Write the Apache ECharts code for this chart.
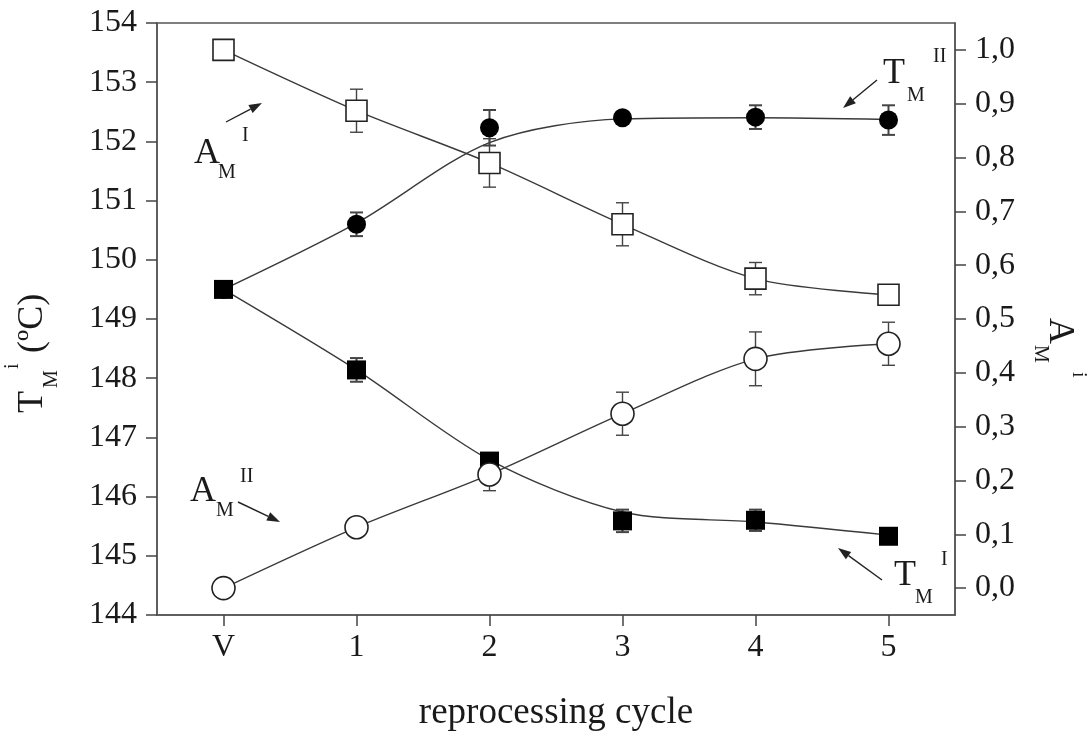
<!DOCTYPE html>
<html>
<head>
<meta charset="utf-8">
<script src="https://cdn.jsdelivr.net/npm/echarts@6/dist/echarts.min.js"></script>
<style>
html,body{margin:0;padding:0;background:#fff;}
#chart{width:1091px;height:738px;}
</style>
</head>
<body>
<div id="chart"></div>
<script>
// ---- data ----
const categories = ['V', '1', '2', '3', '4', '5'];
// T_M^I (filled squares), left axis
const tmI = [149.5, 148.14, 146.6, 145.59, 145.6, 145.33];
const tmIErr = [0.05, 0.2, 0.1, 0.19, 0.18, 0.08];
const tmIFit = [149.5, 148.14, 146.62, 145.74, 145.57, 145.35];
// T_M^II (filled circles), left axis
const tmII = [149.5, 150.6, 152.23, 152.4, 152.41, 152.36];
const tmIIErr = [0.05, 0.2, 0.3, 0.08, 0.2, 0.25];
const tmIIFit = [149.5, 150.62, 151.98, 152.38, 152.4, 152.37];
// A_M^I (open squares), right axis
const amI = [1.0, 0.887, 0.79, 0.676, 0.575, 0.545];
const amIErr = [0, 0.04, 0.045, 0.04, 0.03, 0.01];
// A_M^II (open circles), right axis
const amII = [0.0, 0.113, 0.211, 0.324, 0.426, 0.454];
const amIIErr = [0, 0.01, 0.03, 0.04, 0.05, 0.04];
// tick labels
const leftTicks = [144, 145, 146, 147, 148, 149, 150, 151, 152, 153, 154];
const rightTicks = [0, 0.1, 0.2, 0.3, 0.4, 0.5, 0.6, 0.7, 0.8, 0.9, 1.0];

const FONT = 'Liberation Serif';
const INK = '#1a1a1a';
const LINE = '#3a3a3a';

const chart = echarts.init(document.getElementById('chart'), null, {renderer: 'canvas'});

function pts(arr) { return arr.map((v, i) => [categories[i], v]); }
function errData(vals, errs) { return vals.map((v, i) => [i, v, errs[i]]); }

function errSeries(vals, errs, yIdx, lw) {
  return {
    type: 'custom', yAxisIndex: yIdx, z: 3, silent: true,
    data: errData(vals, errs),
    encode: {x: 0, y: 1},
    renderItem: function (params, api) {
      const x = api.value(0), v = api.value(1), e = api.value(2);
      if (!e) return null;
      const t = api.coord([x, v + e]);
      const b = api.coord([x, v - e]);
      const w = 6.5;
      const st = {stroke: '#444', lineWidth: lw};
      return {type: 'group', children: [
        {type: 'line', shape: {x1: t[0], y1: t[1], x2: b[0], y2: b[1]}, style: st},
        {type: 'line', shape: {x1: t[0] - w, y1: t[1], x2: t[0] + w, y2: t[1]}, style: st},
        {type: 'line', shape: {x1: b[0] - w, y1: b[1], x2: b[0] + w, y2: b[1]}, style: st}
      ]};
    }
  };
}

function fitLine(vals, yIdx) {
  return {type: 'line', yAxisIndex: yIdx, data: pts(vals), smooth: 0.3, showSymbol: false,
    symbol: 'none', lineStyle: {color: LINE, width: 1.4}, z: 2, silent: true};
}
function markers(vals, yIdx, symbol, size, filled) {
  return {type: 'scatter', yAxisIndex: yIdx, data: pts(vals), symbol: symbol, symbolSize: size, z: 5,
    itemStyle: filled ? {color: '#000', opacity: 1} : {color: '#fff', borderColor: '#222', borderWidth: 1.6, opacity: 1}};
}

// annotation helper: group with texts (local coords) and optional rotation
function label(x, y, rot, parts) {
  return {type: 'group', x: x, y: y, rotation: rot, children: parts.map(p => ({
    type: 'text', x: p[1], y: p[2],
    style: {text: p[0], font: p[3] + 'px "' + FONT + '"', fill: INK, align: 'left', verticalAlign: 'middle'}
  }))};
}
function arrow(x1, y1, x2, y2) {
  const a = Math.atan2(y2 - y1, x2 - x1);
  const L = 13, W = 4.5;
  const bx = x2 - L * Math.cos(a), by = y2 - L * Math.sin(a);
  const px = -Math.sin(a) * W, py = Math.cos(a) * W;
  return {type: 'group', children: [
    {type: 'line', shape: {x1: x1, y1: y1, x2: bx, y2: by}, style: {stroke: '#222', lineWidth: 1.4}},
    {type: 'polygon', shape: {points: [[x2, y2], [bx + px, by + py], [bx - px, by - py]]}, style: {fill: '#222'}}
  ]};
}

const tickFont = {fontFamily: FONT, fontSize: 32, color: INK};

const option = {
  backgroundColor: '#fff',
  animation: false,
  grid: {left: 157, right: 136, top: 23, bottom: 123, show: true, borderColor: '#555', borderWidth: 1.5, backgroundColor: 'transparent'},
  xAxis: {
    type: 'category', data: categories, boundaryGap: true,
    axisLine: {show: true, onZero: false, lineStyle: {color: '#555', width: 1.5}},
    axisTick: {show: true, alignWithLabel: true, length: 11, lineStyle: {color: '#444', width: 1.5}},
    axisLabel: Object.assign({margin: 17}, tickFont),
    splitLine: {show: false},
    name: 'reprocessing cycle', nameLocation: 'middle', nameGap: 80,
    nameTextStyle: {fontFamily: FONT, fontSize: 37, color: INK}
  },
  yAxis: [
    {
      type: 'value', min: 144, max: 154, interval: 1, position: 'left',
      axisLine: {show: true, lineStyle: {color: '#555', width: 1.5}},
      axisTick: {show: true, length: 11, lineStyle: {color: '#444', width: 1.5}},
      axisLabel: Object.assign({margin: 20, customValues: leftTicks}, tickFont),
      splitLine: {show: false}
    },
    {
      type: 'value', min: -0.05, max: 1.05, position: 'right',
      axisLine: {show: true, lineStyle: {color: '#555', width: 1.5}},
      axisTick: {show: true, length: 11, customValues: rightTicks, lineStyle: {color: '#444', width: 1.5}},
      axisLabel: Object.assign({margin: 20, customValues: rightTicks,
        formatter: v => v.toFixed(1).replace('.', ',')}, tickFont),
      splitLine: {show: false}
    }
  ],
  series: [
    fitLine(tmIFit, 0),
    fitLine(tmIIFit, 0),
    fitLine(amI, 1),
    fitLine(amII, 1),
    errSeries(tmI, tmIErr, 0, 2),
    errSeries(tmII, tmIIErr, 0, 2),
    errSeries(amI, amIErr, 1, 1.4),
    errSeries(amII, amIIErr, 1, 1.4),
    markers(tmI, 0, 'rect', 19, true),
    markers(tmII, 0, 'circle', 19, true),
    markers(amI, 1, 'rect', 21, false),
    markers(amII, 1, 'circle', 23, false)
  ],
  graphic: [
    // left axis title (reads bottom to top)
    label(44, 413, Math.PI / 2, [['T', 0, -11, 36], ['M', 25, 8, 20], ['i', 44, -31, 20], ['(ºC)', 60, -11, 36]]),
    // right axis title (reads top to bottom)
    label(1048, 318, -Math.PI / 2, [['A', 0, -11, 36], ['M', 27, 8, 20], ['i', 54, -30, 20]]),
    // annotations
    label(0, 0, 0, [['A', 194, 154, 36], ['M', 218, 173, 20], ['I', 242, 136, 20]]),
    arrow(226, 122, 262, 103),
    label(0, 0, 0, [['A', 190, 492, 36], ['M', 216, 511, 20], ['II', 240, 477, 20]]),
    arrow(238, 502, 280, 522),
    label(0, 0, 0, [['T', 883, 74, 36], ['M', 907, 96, 20], ['II', 933, 57, 20]]),
    arrow(877, 80, 843, 108),
    label(0, 0, 0, [['T', 894, 576, 36], ['M', 915, 598, 20], ['I', 941, 560, 20]]),
    arrow(882, 580, 838, 548)
  ]
};
chart.setOption(option);
</script>
</body>
</html>
